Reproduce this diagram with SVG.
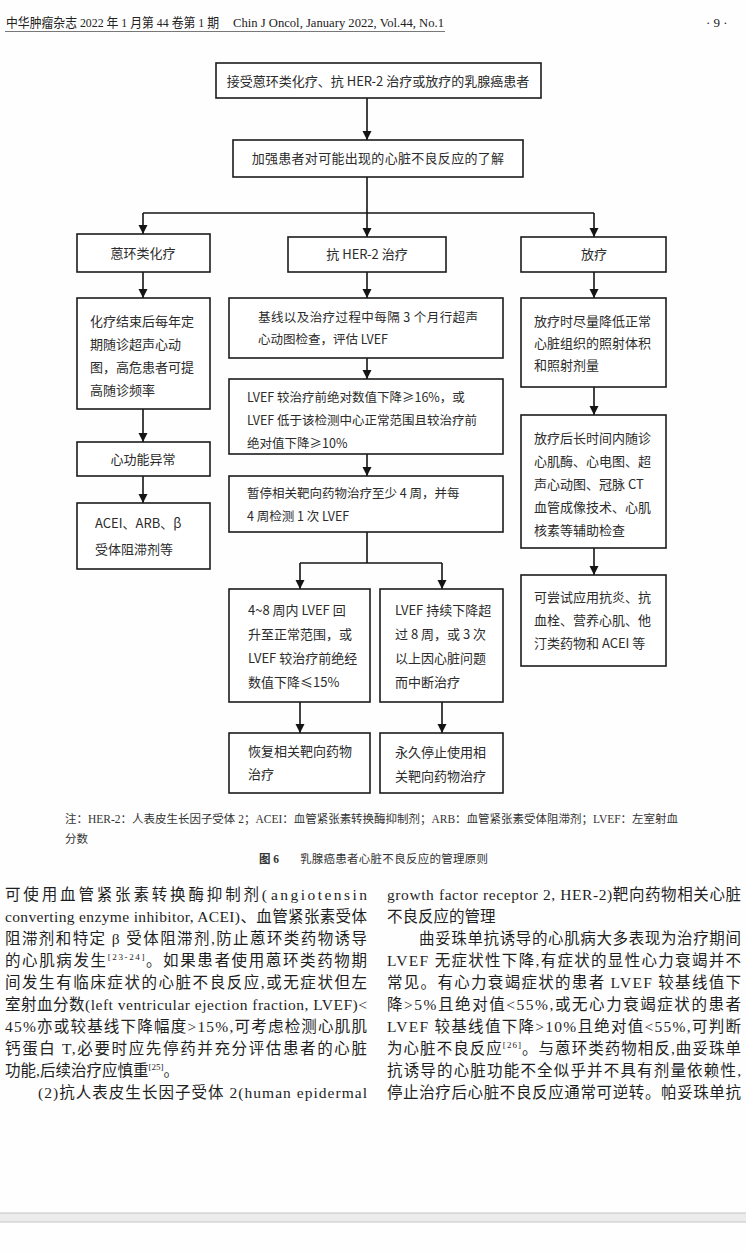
<svg xmlns="http://www.w3.org/2000/svg" width="746" height="1253" viewBox="0 0 746 1253">
<style>
.box{fill:#fff;stroke:#1c1c1c;stroke-width:1.6}
.ft{font-family:"Noto Sans CJK SC","Noto Sans",sans-serif;font-size:13px;fill:#2b2b2b}
.fm{font-size:12.5px}
.c{stroke:#141414;stroke-width:1.6;fill:none}
.hd{font-family:"Liberation Serif","Noto Sans CJK SC",serif;font-size:13px;fill:#222}
.nt{font-family:"Liberation Serif","Noto Sans CJK SC",serif;font-size:11.5px;fill:#333}
.bt{font-family:"Liberation Serif","Noto Sans CJK SC",serif;font-size:15.5px;fill:#1e1e1e}
.sup{font-size:9px}
</style>
<defs>
<marker id="ah" viewBox="0 0 10 10" refX="10" refY="5" markerWidth="9" markerHeight="10" markerUnits="userSpaceOnUse" orient="auto">
<path d="M0,0 L10,5 L0,10 z" fill="#141414"/>
</marker>
</defs>
<rect x="0" y="0" width="746" height="1253" fill="#fefefe"/>

<g id="header">
<text class="hd" x="6" y="27" textLength="213" lengthAdjust="spacingAndGlyphs">中华肿瘤杂志 2022 年 1 月第 44 卷第 1 期</text>
<text class="hd" x="233" y="27" textLength="211" lengthAdjust="spacingAndGlyphs">Chin J Oncol, January 2022, Vol.44, No.1</text>
<line x1="5" y1="31.5" x2="445" y2="31.5" stroke="#555" stroke-width="0.8"/>
<text class="hd" x="706" y="27" font-size="12">· 9 ·</text>
</g>

<g id="connectors">
<line class="c" x1="367" y1="98" x2="367" y2="140" marker-end="url(#ah)"/>
<line class="c" x1="367" y1="177" x2="367" y2="213"/>
<line class="c" x1="143" y1="213" x2="594" y2="213"/>
<line class="c" x1="143" y1="213" x2="143" y2="234" marker-end="url(#ah)"/>
<line class="c" x1="367" y1="213" x2="367" y2="237" marker-end="url(#ah)"/>
<line class="c" x1="594" y1="213" x2="594" y2="237" marker-end="url(#ah)"/>
<line class="c" x1="143" y1="272" x2="143" y2="298" marker-end="url(#ah)"/>
<line class="c" x1="143" y1="409" x2="143" y2="442" marker-end="url(#ah)"/>
<line class="c" x1="143" y1="476" x2="143" y2="503" marker-end="url(#ah)"/>
<line class="c" x1="367" y1="272" x2="367" y2="298" marker-end="url(#ah)"/>
<line class="c" x1="367" y1="358" x2="367" y2="379" marker-end="url(#ah)"/>
<line class="c" x1="367" y1="454" x2="367" y2="476" marker-end="url(#ah)"/>
<line class="c" x1="367" y1="532" x2="367" y2="563"/>
<line class="c" x1="300" y1="563" x2="442" y2="563"/>
<line class="c" x1="300" y1="563" x2="300" y2="589" marker-end="url(#ah)"/>
<line class="c" x1="442" y1="563" x2="442" y2="589" marker-end="url(#ah)"/>
<line class="c" x1="300" y1="702" x2="300" y2="733" marker-end="url(#ah)"/>
<line class="c" x1="442" y1="702" x2="442" y2="733" marker-end="url(#ah)"/>
<line class="c" x1="594" y1="272" x2="594" y2="298" marker-end="url(#ah)"/>
<line class="c" x1="594" y1="387" x2="594" y2="415" marker-end="url(#ah)"/>
<line class="c" x1="594" y1="548" x2="594" y2="575" marker-end="url(#ah)"/>
</g>

<g id="n-start">
<rect class="box" x="216" y="63" width="325" height="35"/>
<text class="ft" x="378" y="86" font-size="14" text-anchor="middle">接受蒽环类化疗、抗 HER-2 治疗或放疗的乳腺癌患者</text>
</g>
<g id="n-educate">
<rect class="box" x="233" y="140" width="290" height="37"/>
<text class="ft" x="378" y="163" text-anchor="middle" letter-spacing="0.3">加强患者对可能出现的心脏不良反应的了解</text>
</g>
<g id="n-anthra">
<rect class="box" x="77" y="234" width="133" height="38"/>
<text class="ft" x="143" y="258" text-anchor="middle">蒽环类化疗</text>
</g>
<g id="n-her2">
<rect class="box" x="288" y="237" width="158" height="35"/>
<text class="ft" x="367" y="259" text-anchor="middle">抗 HER-2 治疗</text>
</g>
<g id="n-radio">
<rect class="box" x="521" y="237" width="145" height="35"/>
<text class="ft" x="594" y="259" text-anchor="middle">放疗</text>
</g>

<g id="n-l1">
<rect class="box" x="77" y="298" width="133" height="111"/>
<text class="ft" x="90" y="326">化疗结束后每年定</text>
<text class="ft" x="90" y="349">期随诊超声心动</text>
<text class="ft" x="90" y="372">图，高危患者可提</text>
<text class="ft" x="90" y="395">高随诊频率</text>
</g>
<g id="n-l2">
<rect class="box" x="77" y="442" width="133" height="34"/>
<text class="ft" x="143" y="464" text-anchor="middle">心功能异常</text>
</g>
<g id="n-l3">
<rect class="box" x="77" y="503" width="133" height="66"/>
<text class="ft" x="95" y="528">ACEI、ARB、β</text>
<text class="ft" x="95" y="554">受体阻滞剂等</text>
</g>

<g id="n-m1">
<rect class="box" x="229" y="298" width="274" height="60"/>
<text class="ft fm" x="258" y="322" textLength="220" lengthAdjust="spacing">基线以及治疗过程中每隔 3 个月行超声</text>
<text class="ft fm" x="258" y="344">心动图检查，评估 LVEF</text>
</g>
<g id="n-m2">
<rect class="box" x="229" y="379" width="274" height="75"/>
<text class="ft fm" x="247" y="402">LVEF 较治疗前绝对数值下降≥16%，或</text>
<text class="ft fm" x="247" y="425">LVEF 低于该检测中心正常范围且较治疗前</text>
<text class="ft fm" x="247" y="448">绝对值下降≥10%</text>
</g>
<g id="n-m3">
<rect class="box" x="229" y="476" width="274" height="56"/>
<text class="ft fm" x="247" y="498">暂停相关靶向药物治疗至少 4 周，并每</text>
<text class="ft fm" x="247" y="521">4 周检测 1 次 LVEF</text>
</g>
<g id="n-m4l">
<rect class="box" x="229" y="589" width="141" height="113"/>
<text class="ft" x="248" y="615">4~8 周内 LVEF 回</text>
<text class="ft" x="248" y="639">升至正常范围，或</text>
<text class="ft" x="248" y="663">LVEF 较治疗前绝经</text>
<text class="ft" x="248" y="687">数值下降≤15%</text>
</g>
<g id="n-m4r">
<rect class="box" x="380" y="589" width="123" height="113"/>
<text class="ft" x="395" y="615">LVEF 持续下降超</text>
<text class="ft" x="395" y="639">过 8 周，或 3 次</text>
<text class="ft" x="395" y="663">以上因心脏问题</text>
<text class="ft" x="395" y="687">而中断治疗</text>
</g>
<g id="n-m5l">
<rect class="box" x="229" y="733" width="141" height="60"/>
<text class="ft" x="248" y="756">恢复相关靶向药物</text>
<text class="ft" x="248" y="779">治疗</text>
</g>
<g id="n-m5r">
<rect class="box" x="380" y="733" width="123" height="60"/>
<text class="ft" x="395" y="757">永久停止使用相</text>
<text class="ft" x="395" y="781">关靶向药物治疗</text>
</g>

<g id="n-r1">
<rect class="box" x="521" y="298" width="145" height="89"/>
<text class="ft" x="534" y="326">放疗时尽量降低正常</text>
<text class="ft" x="534" y="348">心脏组织的照射体积</text>
<text class="ft" x="534" y="370">和照射剂量</text>
</g>
<g id="n-r2">
<rect class="box" x="521" y="415" width="145" height="133"/>
<text class="ft" x="534" y="443">放疗后长时间内随诊</text>
<text class="ft" x="534" y="466">心肌酶、心电图、超</text>
<text class="ft" x="534" y="489">声心动图、冠脉 CT</text>
<text class="ft" x="534" y="512">血管成像技术、心肌</text>
<text class="ft" x="534" y="535">核素等辅助检查</text>
</g>
<g id="n-r3">
<rect class="box" x="521" y="575" width="145" height="91"/>
<text class="ft" x="534" y="602">可尝试应用抗炎、抗</text>
<text class="ft" x="534" y="625">血栓、营养心肌、他</text>
<text class="ft" x="534" y="648">汀类药物和 ACEI 等</text>
</g>

<g id="caption">
<text class="nt" x="65" y="823" textLength="613" lengthAdjust="spacingAndGlyphs">注：HER-2：人表皮生长因子受体 2；ACEI：血管紧张素转换酶抑制剂；ARB：血管紧张素受体阻滞剂；LVEF：左室射血</text>
<text class="nt" x="65" y="843">分数</text>
<text class="nt" x="259" y="863" font-size="12" font-weight="bold">图 6</text>
<text class="nt" x="300" y="863" font-size="12" textLength="188" lengthAdjust="spacing">乳腺癌患者心脏不良反应的管理原则</text>
</g>

<g id="body">
<text class="bt" x="5" y="900" textLength="262" lengthAdjust="spacing">可使用血管紧张素转换酶抑制剂(</text>
<text class="bt" x="271" y="900" textLength="96" lengthAdjust="spacing">angiotensin</text>
<text class="bt" x="5" y="922" textLength="362" lengthAdjust="spacing">converting enzyme inhibitor, ACEI)、血管紧张素受体</text>
<text class="bt" x="5" y="944" textLength="362" lengthAdjust="spacing">阻滞剂和特定 β 受体阻滞剂,防止蒽环类药物诱导</text>
<text class="bt" x="5" y="966" textLength="362" lengthAdjust="spacing">的心肌病发生<tspan class="sup" dy="-6">[23-24]</tspan><tspan dy="6">。如果患者使用蒽环类药物期</tspan></text>
<text class="bt" x="5" y="988" textLength="362" lengthAdjust="spacing">间发生有临床症状的心脏不良反应,或无症状但左</text>
<text class="bt" x="5" y="1010" textLength="362" lengthAdjust="spacing">室射血分数(left ventricular ejection fraction, LVEF)&lt;</text>
<text class="bt" x="5" y="1032" textLength="362" lengthAdjust="spacing">45%亦或较基线下降幅度&gt;15%,可考虑检测心肌肌</text>
<text class="bt" x="5" y="1054" textLength="362" lengthAdjust="spacing">钙蛋白 T,必要时应先停药并充分评估患者的心脏</text>
<text class="bt" x="5" y="1076">功能,后续治疗应慎重<tspan class="sup" dy="-6">[25]</tspan><tspan dy="6">。</tspan></text>
<text class="bt" x="38" y="1098" textLength="329" lengthAdjust="spacing">(2)抗人表皮生长因子受体 2(human epidermal</text>

<text class="bt" x="387" y="900" textLength="354" lengthAdjust="spacing">growth factor receptor 2, HER-2)靶向药物相关心脏</text>
<text class="bt" x="387" y="922">不良反应的管理</text>
<text class="bt" x="419" y="944" textLength="322" lengthAdjust="spacing">曲妥珠单抗诱导的心肌病大多表现为治疗期间</text>
<text class="bt" x="387" y="966" textLength="354" lengthAdjust="spacing">LVEF 无症状性下降,有症状的显性心力衰竭并不</text>
<text class="bt" x="387" y="988" textLength="354" lengthAdjust="spacing">常见。有心力衰竭症状的患者 LVEF 较基线值下</text>
<text class="bt" x="387" y="1010" textLength="354" lengthAdjust="spacing">降&gt;5%且绝对值&lt;55%,或无心力衰竭症状的患者</text>
<text class="bt" x="387" y="1032" textLength="354" lengthAdjust="spacing">LVEF 较基线值下降&gt;10%且绝对值&lt;55%,可判断</text>
<text class="bt" x="387" y="1054" textLength="354" lengthAdjust="spacing">为心脏不良反应<tspan class="sup" dy="-6">[26]</tspan><tspan dy="6">。与蒽环类药物相反,曲妥珠单</tspan></text>
<text class="bt" x="387" y="1076" textLength="354" lengthAdjust="spacing">抗诱导的心脏功能不全似乎并不具有剂量依赖性,</text>
<text class="bt" x="387" y="1098" textLength="354" lengthAdjust="spacing">停止治疗后心脏不良反应通常可逆转。帕妥珠单抗</text>
</g>

<g id="footer-band">
<rect x="0" y="1213" width="746" height="9" fill="#ececec"/>
<line x1="0" y1="1213" x2="746" y2="1213" stroke="#c4c4c4" stroke-width="1"/>
<line x1="0" y1="1222" x2="746" y2="1222" stroke="#c4c4c4" stroke-width="1"/>
</g>
</svg>
